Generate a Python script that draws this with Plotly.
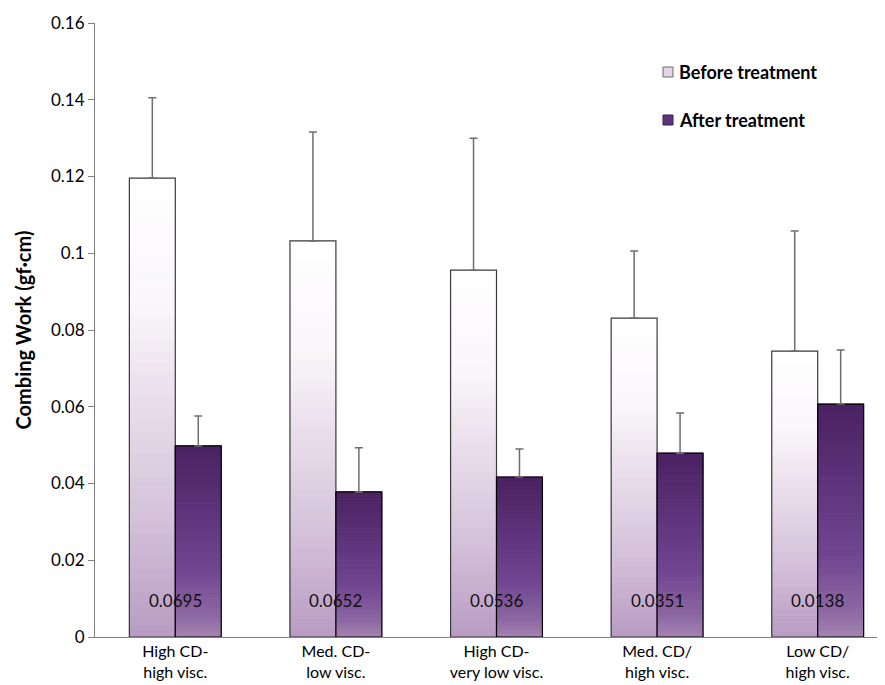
import plotly.graph_objects as go

categories = ["High CD-<br>high visc.", "Med. CD-<br>low visc.", "High CD-<br>very low visc.",
              "Med. CD/<br>high visc.", "Low CD/<br>high visc."]
before_vals = [0.1196, 0.1032, 0.0956, 0.0831, 0.0745]
before_err = [0.0209, 0.0284, 0.0344, 0.0175, 0.0313]
after_vals = [0.0498, 0.0378, 0.0417, 0.0479, 0.0607]
after_err = [0.0078, 0.0115, 0.0073, 0.0105, 0.0141]
p_labels = ["0.0695", "0.0652", "0.0536", "0.0351", "0.0138"]
series_names = ["Before treatment", "After treatment"]
label_y = 0.0096

FONT = "Lato, Open Sans, sans-serif"
N = 40
W = 0.286
xs = list(range(len(categories)))

# plot area in page pixels (page has an 8px body margin)
PL, PR, PT, PB = 95, 885, 23, 637
PW, PH = PR - PL, PB - PT

before_stops = [(0.0, (184, 155, 195)), (0.25, (211, 192, 217)), (0.5, (232, 220, 234)),
                (0.72, (250, 246, 250)), (1.0, (255, 255, 255))]
after_stops = [(0.0, (163, 133, 176)), (0.12, (140, 102, 162)), (0.35, (112, 70, 145)),
               (0.65, (94, 52, 124)), (1.0, (74, 33, 97))]


def interp(stops, t):
    for (t0, c0), (t1, c1) in zip(stops[:-1], stops[1:]):
        if t0 <= t <= t1:
            f = (t - t0) / (t1 - t0)
            return "rgb(%d,%d,%d)" % tuple(round(a + (b - a) * f) for a, b in zip(c0, c1))
    return "rgb(%d,%d,%d)" % stops[-1][1]


fig = go.Figure()


def add_series(vals, errs, offset, stops, name, outline):
    for i in range(N):
        t = (i + 0.5) / N
        c = interp(stops, t)
        fig.add_trace(go.Bar(
            x=xs, y=[v / N for v in vals], base=[v * i / N for v in vals],
            offset=offset, width=W, marker=dict(color=c, line=dict(width=0.8, color=c)),
            showlegend=False, hoverinfo="skip"))
    fig.add_trace(go.Bar(
        x=xs, y=vals, offset=offset, width=W, name=name,
        marker=dict(color="rgba(0,0,0,0)", line=dict(color=outline, width=1.2)),
        error_y=dict(type="data", symmetric=False, array=errs, arrayminus=[0] * len(errs),
                     color="#6e6e6e", thickness=1.5, width=4),
        showlegend=False))


add_series(before_vals, before_err, -W, before_stops, series_names[0], "#3a3a3a")
add_series(after_vals, after_err, 0, after_stops, series_names[1], "#000000")

for x, lab in zip(xs, p_labels):
    fig.add_annotation(x=x, y=label_y, text=lab, showarrow=False,
                       font=dict(family=FONT, size=17, color="#111111"))

# manual legend
legend_fill = ["#e2d6e8", "#5e347c"]
legend_line = ["#6a6a6a", "#3a2050"]
legend_cy = [72, 120]


def px2x(px):
    return (px - PL) / PW


def py2y(py):
    return (PB - py) / PH


for name, fc, lc, cy in zip(series_names, legend_fill, legend_line, legend_cy):
    fig.add_shape(type="rect", xref="paper", yref="paper",
                  x0=px2x(663), x1=px2x(673), y0=py2y(cy + 5), y1=py2y(cy - 5),
                  fillcolor=fc, line=dict(color=lc, width=1))
    fig.add_annotation(xref="paper", yref="paper", x=px2x(677), y=py2y(cy),
                       xanchor="left", yanchor="middle", showarrow=False,
                       text="<b>%s</b>" % name,
                       font=dict(family=FONT, size=18, color="black"))

fig.update_layout(
    width=877, height=677,
    margin=dict(l=PL - 8, r=877 - (PR - 8), t=PT - 8, b=677 - (PB - 8)),
    plot_bgcolor="white", paper_bgcolor="white",
    barmode="overlay", showlegend=False,
    font=dict(family=FONT, color="black"),
    xaxis=dict(range=[-0.5, -0.5 + PW / 160.6], tickmode="array", tickvals=xs,
               ticktext=categories, showline=True, linecolor="#808080", linewidth=1,
               ticks="", showgrid=False, zeroline=False,
               tickfont=dict(family=FONT, size=16, color="black")),
    yaxis=dict(range=[0, 0.16], dtick=0.02, showline=True, linecolor="#808080",
               linewidth=1, ticks="outside", ticklen=6, tickcolor="#808080",
               showgrid=False, zeroline=False,
               tickfont=dict(family=FONT, size=17, color="black"),
               title=dict(text="<b>Combing Work (gf·cm)</b>",
                          font=dict(family=FONT, size=20, color="black"), standoff=14)),
)

fig.write_html("out.html")
